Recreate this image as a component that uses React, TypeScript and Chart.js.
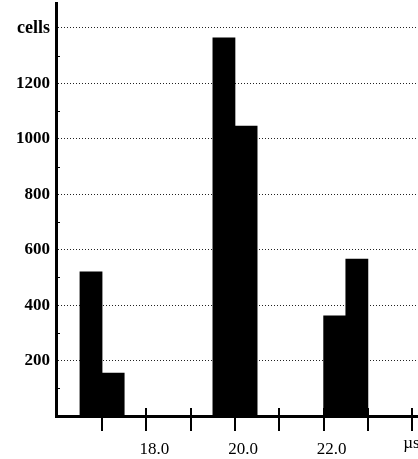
import { useEffect, useRef } from 'react';
import { Chart, registerables } from 'chart.js';

Chart.register(...registerables);

// ---- data ----
const binCenters = [16.75, 17.25, 19.75, 20.25, 22.25, 22.75];
const cellCounts = [520, 155, 1364, 1046, 361, 566];
const yTickValues = [200, 400, 600, 800, 1000, 1200, 1400];
const yTickLabels = ['200', '400', '600', '800', '1000', '1200', 'cells'];
const yMinorTicks = [100, 300, 500, 700, 900, 1100, 1300];
const xLabelValues = [18, 20, 22];
const xLabelTexts = ['18.0', '20.0', '22.0'];
const xMinorTicks = [17, 18, 19, 20, 21, 22, 23, 24];
const xUnit = 'µs';

const axisMarks = {
  id: 'axisMarks',
  beforeDatasetsDraw(chart: any) {
    const { ctx, scales, chartArea } = chart;
    const x = scales.x;
    const y = scales.y;
    ctx.save();
    ctx.strokeStyle = '#000';
    ctx.lineWidth = 2;
    xMinorTicks.forEach((v) => {
      const px = Math.round(x.getPixelForValue(v));
      ctx.beginPath();
      ctx.moveTo(px, chartArea.bottom - 8);
      ctx.lineTo(px, chartArea.bottom + 15);
      ctx.stroke();
    });
    ctx.lineWidth = 1;
    yMinorTicks.forEach((v) => {
      const py = Math.round(y.getPixelForValue(v)) + 0.5;
      ctx.beginPath();
      ctx.moveTo(chartArea.left, py);
      ctx.lineTo(chartArea.left + 4, py);
      ctx.stroke();
    });
    ctx.restore();
  },
  afterDraw(chart: any) {
    const { ctx, scales, chartArea } = chart;
    const px = scales.x.getPixelForValue(24);
    ctx.save();
    ctx.fillStyle = '#000';
    ctx.font = '17px "Liberation Serif"';
    ctx.textAlign = 'left';
    ctx.textBaseline = 'middle';
    ctx.fillText(xUnit, px - 9, chartArea.bottom + 28);
    ctx.restore();
  },
};

export default function App() {
  const canvasRef = useRef<HTMLCanvasElement | null>(null);

  useEffect(() => {
    document.body.style.margin = '0';
    const canvas = canvasRef.current;
    if (!canvas) return;
    const chart = new Chart(canvas, {
      type: 'bar',
      data: {
        datasets: [
          {
            data: binCenters.map((c, i) => ({ x: c, y: cellCounts[i] })),
            backgroundColor: '#000',
            borderWidth: 0,
            barPercentage: 1,
            categoryPercentage: 1,
          },
        ],
      },
      options: {
        animation: false,
        responsive: false,
        layout: { padding: { top: 3, right: 0, left: 0, bottom: 0 } },
        plugins: { legend: { display: false }, tooltip: { enabled: false } },
        scales: {
          x: {
            type: 'linear',
            offset: false,
            min: 15.96,
            max: 24.13,
            afterBuildTicks: (scale: any) => {
              scale.ticks = xLabelValues.map((v) => ({ value: v }));
            },
            afterFit: (scale: any) => {
              scale.height = 43;
              scale.paddingLeft = 0;
              scale.paddingRight = 0;
            },
            grid: { display: false, drawTicks: false, offset: false },
            border: { display: true, color: '#000', width: 3 },
            ticks: {
              autoSkip: false,
              maxRotation: 0,
              padding: 23,
              labelOffset: 8,
              color: '#000',
              font: { family: '"Liberation Serif"', size: 17 },
              callback: (value: any) => {
                const i = xLabelValues.indexOf(Number(value));
                return i >= 0 ? xLabelTexts[i] : '';
              },
            },
          },
          y: {
            type: 'linear',
            min: 0,
            max: 1490,
            afterBuildTicks: (scale: any) => {
              scale.ticks = yTickValues.map((v) => ({ value: v }));
            },
            afterFit: (scale: any) => {
              scale.width = 56;
              scale.paddingTop = 0;
              scale.paddingBottom = 0;
            },
            grid: { display: true, drawTicks: false, color: '#222', lineWidth: 1 },
            border: { display: true, color: '#000', width: 3, dash: [1, 2] },
            ticks: {
              padding: 6,
              color: '#000',
              font: (ctx: any) => ({
                family: '"Liberation Serif"',
                size: ctx.tick && ctx.tick.value === 1400 ? 18 : 17,
                weight: 'bold',
              }),
              callback: (value: any) => {
                const i = yTickValues.indexOf(Number(value));
                return i >= 0 ? yTickLabels[i] : '';
              },
            },
          },
        },
      },
      plugins: [axisMarks],
    } as any);
    return () => chart.destroy();
  }, []);

  return (
    <div style={{ width: 418, height: 459 }}>
      <canvas ref={canvasRef} width={418} height={459} style={{ display: 'block' }} />
    </div>
  );
}
